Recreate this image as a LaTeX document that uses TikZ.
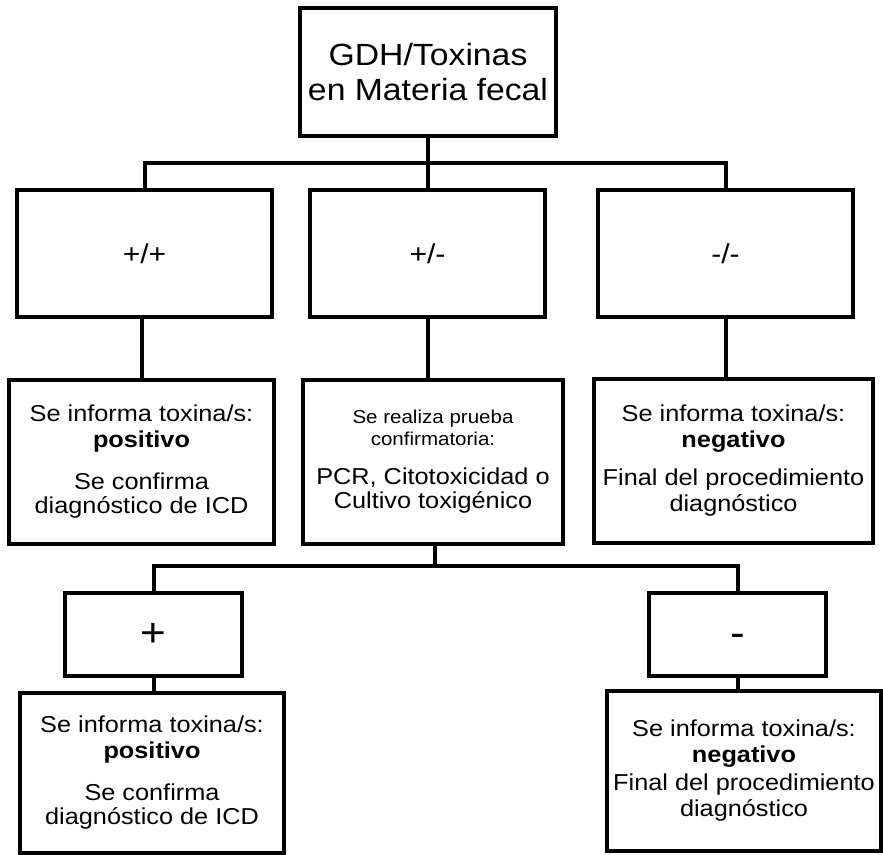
\documentclass[tikz,border=0pt]{standalone}
\usepackage{fontspec}
\setmainfont{Liberation Sans}[FakeStretch=1.1]
\begin{document}
\begin{tikzpicture}[x=0.75pt,y=-0.75pt,
  box/.style={draw=black,line width=3pt,fill=white,inner sep=0pt,align=center},
  conn/.style={draw=black,line width=3pt,line cap=rect,line join=miter},
  txt/.style={font=\fontsize{17.25pt}{19.5pt}\selectfont},
  sign/.style={font=\fontsize{20.5pt}{24pt}\selectfont},
  bigsign/.style={font=\fontsize{30pt}{34pt}\selectfont}]
\useasboundingbox[fill=white] (0,0) rectangle (883,855);

% root
\node[box,minimum width=256*0.75pt,minimum height=128*0.75pt,
      font=\fontsize{23pt}{26.25pt}\selectfont] (top) at (428,72)
  {GDH/Toxinas\\en Materia fecal};

% first screening results
\node[box,sign,minimum width=255*0.75pt,minimum height=127*0.75pt] (r2a) at (144.5,253.5) {+/+};
\node[box,sign,minimum width=235*0.75pt,minimum height=127*0.75pt] (r2b) at (427.5,253.5) {+/-};
\node[box,sign,minimum width=255*0.75pt,minimum height=127*0.75pt] (r2c) at (725.5,253.5) {-/-};

% actions
\node[box,txt,minimum width=265*0.75pt,minimum height=164*0.75pt] (r3a) at (141.5,462)
  {Se informa toxina/s:\\\textbf{positivo}\\[12pt]Se confirma\\[-1.5pt]diagnóstico de ICD};
\node[box,txt,minimum width=260*0.75pt,minimum height=164*0.75pt] (r3b) at (433,462)
  {{\fontsize{14pt}{16.5pt}\selectfont Se realiza prueba}\\[-3pt]{\fontsize{14pt}{16.5pt}\selectfont confirmatoria:}\\[9.75pt]PCR, Citotoxicidad o\\[-1.5pt]Cultivo toxigénico};
\node[box,txt,minimum width=279*0.75pt,minimum height=164*0.75pt] (r3c) at (733.5,461)
  {Se informa toxina/s:\\\textbf{negativo}\\[9pt]Final del procedimiento\\diagnóstico};

% confirmatory test results
\node[box,bigsign,minimum width=177*0.75pt,minimum height=83*0.75pt] (r4a) at (153.5,634.5) {+};
\node[box,bigsign,minimum width=177*0.75pt,minimum height=83*0.75pt] (r4b) at (737.5,634.5) {\vphantom{+}-};

% final reports
\node[box,txt,minimum width=264*0.75pt,minimum height=160*0.75pt] (r5a) at (152,773)
  {Se informa toxina/s:\\\textbf{positivo}\\[12pt]Se confirma\\[-1.5pt]diagnóstico de ICD};
\node[box,txt,minimum width=274*0.75pt,minimum height=160*0.75pt] (r5b) at (744,771)
  {Se informa toxina/s:\\\textbf{negativo}\\[1.5pt]Final del procedimiento\\diagnóstico};

% connectors
\coordinate (j1) at (428,163);
\coordinate (j2) at (435,566);
\draw[conn] (top.south) -- (j1);
\draw[conn] (r2a.north) |- (j1) -| (r2c.north);
\draw[conn] (j1) -- (j1 |- r2b.north);

\draw[conn] (r3a.north |- r2a.south) -- (r3a.north);
\draw[conn] (r2b.south) -- (r2b.south |- r3b.north);
\draw[conn] (r2c.south) -- (r2c.south |- r3c.north);

\draw[conn] (r3b.south -| j2) -- (j2);
\draw[conn] (r4a.north) |- (j2) -| (r4b.north);

\draw[conn] (r4a.south) -- (r4a.south |- r5a.north);
\draw[conn] (r4b.south) -- (r4b.south |- r5b.north);
\end{tikzpicture}
\end{document}
